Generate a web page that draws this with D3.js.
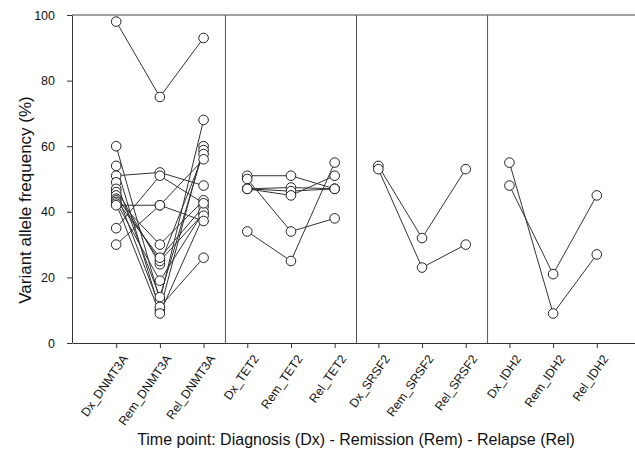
<!DOCTYPE html>
<html>
<head>
<meta charset="utf-8">
<script src="https://cdn.jsdelivr.net/npm/d3@7"></script>
<style>
  body { margin: 0; background: #fff; }
  text { font-family: "Liberation Sans", Arial, sans-serif; fill: #111; }
</style>
</head>
<body>
<div id="chart"></div>
<script>
// categories on the x axis
const genes = ["DNMT3A", "TET2", "SRSF2", "IDH2"];
const phases = ["Dx", "Rem", "Rel"];
const categories = genes.flatMap(g => phases.map(p => p + "_" + g));

// each row is one patient: [Dx, Rem, Rel] VAF in %
const dnmt3a = [
    [98, 75, 93],
    [60, 13, 68],
    [54, 10, 60],
    [51, 52, 48],
    [49, 14, 58.8],
    [47, 24, 57.6],
    [46, 11, 26],
    [45, 25, 39.5],
    [44, 30, 43.5],
    [43.5, 26, 41.6],
    [43, 19, 40],
    [42.5, 9, 38.8],
    [42, 42, 56],
    [35, 51, 42.6],
    [30, 42, 37.2]
];
const tet2 = [
    [51, 51, 47],
    [50, 34, 38],
    [47, 47.4, 47],
    [47, 46.3, 47],
    [47, 45, 51],
    [34, 25, 55]
];
const srsf2 = [
    [54, 32, 53],
    [53, 23, 30]
];
const idh2 = [
    [55, 9, 27],
    [48, 21, 45]
];
const seriesByGene = [dnmt3a, tet2, srsf2, idh2];
const yTicks = [0, 20, 40, 60, 80, 100];

const W = 635, H = 450;
const plot = {left: 72, top: 15, right: 635, bottom: 343};

const svg = d3.select("#chart").append("svg")
    .attr("width", W)
    .attr("height", H);

const x = d3.scalePoint().domain(categories).range([72.5, 640.5]).padding(1);
const y = d3.scaleLinear().domain([0, 100]).range([plot.bottom, plot.top]);

// top frame line
svg.append("line")
    .attr("x1", plot.left).attr("x2", plot.right)
    .attr("y1", plot.top).attr("y2", plot.top)
    .attr("stroke", "#444").attr("stroke-width", 1);

// group separators
for (let g = 1; g < genes.length; g++) {
    const sx = (x(categories[g * 3 - 1]) + x(categories[g * 3])) / 2;
    svg.append("line")
        .attr("x1", sx).attr("x2", sx)
        .attr("y1", plot.top).attr("y2", plot.bottom)
        .attr("stroke", "#555").attr("stroke-width", 1);
}

// X axis
const xAxis = svg.append("g")
    .attr("transform", "translate(0," + plot.bottom + ")")
    .call(d3.axisBottom(x).tickSize(5).tickSizeOuter(0));
xAxis.select(".domain").attr("stroke", "#333");
xAxis.selectAll(".tick line").attr("stroke", "#333");
xAxis.selectAll(".tick text")
    .attr("font-size", "12.2px")
    .attr("text-anchor", "end")
    .attr("dx", "0.3em")
    .attr("dy", "0.3em")
    .attr("transform", "translate(0,12) rotate(-55)");

// Y axis
const yAxis = svg.append("g")
    .attr("transform", "translate(" + plot.left + ",0)")
    .call(d3.axisLeft(y).tickValues(yTicks).tickSize(5).tickSizeOuter(0).tickPadding(12));
yAxis.select(".domain").attr("stroke", "#333");
yAxis.selectAll(".tick line").attr("stroke", "#333");
yAxis.selectAll(".tick text").attr("font-size", "12.5px");

// lines + points
const line = d3.line()
    .x(d => x(d.cat))
    .y(d => y(d.v));

seriesByGene.forEach((rows, gi) => {
    rows.forEach(r => {
        const pts = r.map((v, i) => ({cat: phases[i] + "_" + genes[gi], v: v}));
        svg.append("path")
            .datum(pts)
            .attr("d", line)
            .attr("fill", "none")
            .attr("stroke", "#333")
            .attr("stroke-width", 1);
    });
});

seriesByGene.forEach((rows, gi) => {
    rows.forEach(r => {
        const pts = r.map((v, i) => ({cat: phases[i] + "_" + genes[gi], v: v}));
        svg.selectAll(null)
            .data(pts)
            .enter().append("circle")
            .attr("cx", d => x(d.cat))
            .attr("cy", d => y(d.v))
            .attr("r", 4.8)
            .attr("fill", "#fff")
            .attr("stroke", "#222")
            .attr("stroke-width", 1);
    });
});

// axis titles
svg.append("text")
    .attr("transform", "translate(31,200) rotate(-90)")
    .attr("text-anchor", "middle")
    .attr("font-size", "17px")
    .text("Variant allele frequency (%)");

svg.append("text")
    .attr("x", 356)
    .attr("y", 445)
    .attr("text-anchor", "middle")
    .attr("font-size", "16px")
    .text("Time point: Diagnosis (Dx) - Remission (Rem) - Relapse (Rel)");
</script>
</body>
</html>
